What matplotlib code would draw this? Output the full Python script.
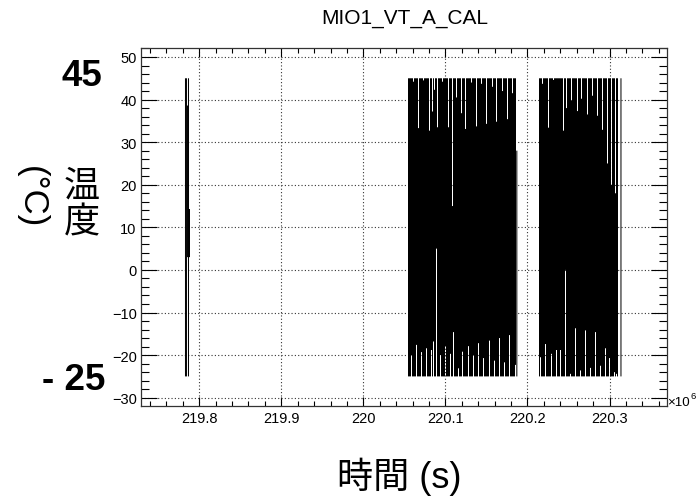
import numpy as np
import matplotlib
matplotlib.use("Agg")
import matplotlib.pyplot as plt
from matplotlib.ticker import MultipleLocator, FixedLocator, FixedFormatter

# ---------------- text ----------------
title = "MIO1_VT_A_CAL"
x_label = "時間 (s)"
y_label_cjk = "温\n度"
y_label_unit = "(°C)"
note_hi = "45"
note_lo = "- 25"
x_exp_base = "×10"
x_exp_pow = "6"

# ---------------- axes ----------------
x_ticks = [219.8, 219.9, 220.0, 220.1, 220.2, 220.3]
x_tick_labels = ["219.8", "219.9", "220", "220.1", "220.2", "220.3"]
y_ticks = [-30, -20, -10, 0, 10, 20, 30, 40, 50]
y_tick_labels = ["\u221230", "\u221220", "\u221210", "0", "10", "20", "30", "40", "50"]
x_range = (219.729, 220.370)   # time, units of 1e6 s
y_range = (-31.95, 52.11)

# ---------------- data ----------------
# temperature saturates between these levels during cycling
T_MAX = 45
T_MIN = -25
# dense cycling bursts (time in 1e6 s)
burst_start = [220.0543, 220.2145]
burst_end = [220.1858, 220.3100]

# columns where the trace peak stays below T_MAX (time, peak value)
top_gap_t = [220.0608, 220.0676, 220.0734, 220.0807, 220.0847, 220.0871, 220.0908,
             220.0961, 220.1034, 220.1080, 220.1131, 220.1192, 220.1248, 220.1314,
             220.1378, 220.1443, 220.1500, 220.1569, 220.1625, 220.1695, 220.1752,
             220.1820,
             220.2185, 220.2252, 220.2315, 220.2437, 220.2476, 220.2538, 220.2611,
             220.2664, 220.2732, 220.2793, 220.2859, 220.2915, 220.2976, 220.3021,
             220.3075]
top_gap_v = [44.2, 33.3, 44.5, 32.7, 37.2, 42.3, 33.5,
             44.2, 33.5, 15.0, 40.5, 36.8, 33.1, 44.0,
             33.7, 43.7, 34.3, 43.0, 34.8, 42.0, 35.4,
             41.5,
             43.7, 33.4, 44.6, 32.7, 38.0, 39.8, 37.3,
             40.2, 36.5, 40.9, 36.2, 32.9, 25.0, 20.0,
             18.0]
# columns where the trace trough stays above T_MIN (time, trough value)
bot_gap_t = [220.0584, 220.0645, 220.0709, 220.0766, 220.0835, 220.0859, 220.0886,
             220.0937, 220.0998, 220.1062, 220.1099, 220.1156, 220.1212, 220.1281,
             220.1342, 220.1406, 220.1467, 220.1533, 220.1594, 220.1658, 220.1719,
             220.1784, 220.1849,
             220.2161, 220.2221, 220.2287, 220.2348, 220.2404, 220.2461, 220.2518,
             220.2579, 220.2644, 220.2701, 220.2769, 220.2826, 220.2895, 220.2956,
             220.3000, 220.3057, 220.3085]
bot_gap_v = [-20.0, -17.6, -19.3, -18.4, -18.8, -16.8, 5.0,
             -20.0, -17.9, -19.7, -14.6, -23.1, -19.2, -17.9,
             -20.1, -17.2, -20.7, -16.6, -21.3, -16.0, -21.7,
             -15.3, -22.3,
             -20.5, -17.4, -19.7, -18.8, -18.8, 0.0, -24.4,
             -13.7, -23.6, -14.2, -23.0, -14.6, -22.5, -18.4,
             -20.7, -24.0, -24.4]
# isolated short excursions (time, min, max)
iso_t = [219.7832, 219.7845, 219.7857, 219.7869, 219.7881, 220.1870, 220.3139]
iso_lo = [-25, -25, 3, -25, 3, -25, -25]
iso_hi = [45, 45, 38.6, 45, 14.3, 28, 45]

# ---------------- figure ----------------
W, H = 697, 502
AX_L, AX_R, AX_T, AX_B = 141, 667, 49, 407
fig = plt.figure(figsize=(W / 100, H / 100), dpi=100)
ax = fig.add_axes([AX_L / W, 1 - AX_B / H, (AX_R - AX_L) / W, (AX_B - AX_T) / H])

# dense trace is drawn as one min/max envelope per screen column
n_cols = AX_R - AX_L
column_step = (x_range[1] - x_range[0]) / n_cols
screen_cols = x_range[0] + (np.arange(n_cols) + 0.5) * column_step

ts, los, his = [], [], []
for s, e in zip(burst_start, burst_end):
    cols = screen_cols[(screen_cols >= s) & (screen_cols <= e)]
    lo = np.full(cols.size, float(T_MIN))
    hi = np.full(cols.size, float(T_MAX))
    for t, v in zip(top_gap_t, top_gap_v):
        if s - column_step <= t <= e + column_step:
            i = int(np.argmin(np.abs(cols - t)))
            hi[i] = min(hi[i], v)
    for t, v in zip(bot_gap_t, bot_gap_v):
        if s - column_step <= t <= e + column_step:
            i = int(np.argmin(np.abs(cols - t)))
            lo[i] = max(lo[i], v)
    ts.append(cols); los.append(lo); his.append(hi)
ts.append(np.array(iso_t)); los.append(np.array(iso_lo, float)); his.append(np.array(iso_hi, float))
all_t = np.concatenate(ts); all_lo = np.concatenate(los); all_hi = np.concatenate(his)

lat = ["Liberation Sans", "DejaVu Sans"]
mix = ["Liberation Sans", "Noto Sans CJK JP", "DejaVu Sans"]
cjk = ["Noto Sans CJK JP", "DejaVu Sans"]

lc = ax.vlines(all_t, all_lo, all_hi, colors="black", linewidth=0.72, zorder=3)
lc.set_snap(False)

ax.set_xlim(*x_range)
ax.set_ylim(*y_range)
ax.xaxis.set_major_locator(FixedLocator(x_ticks))
ax.xaxis.set_major_formatter(FixedFormatter(x_tick_labels))
ax.xaxis.set_minor_locator(MultipleLocator(0.02))
ax.yaxis.set_major_locator(FixedLocator(y_ticks))
ax.yaxis.set_major_formatter(FixedFormatter(y_tick_labels))
ax.yaxis.set_minor_locator(MultipleLocator(2))

ax.tick_params(axis="both", which="both", direction="in", top=True, right=True,
               width=0.8, color="black")
ax.tick_params(axis="y", which="major", length=11.5, pad=3.1)
ax.tick_params(axis="y", which="minor", length=5.8)
ax.tick_params(axis="x", which="major", length=6.5, pad=3.4)
ax.tick_params(axis="x", which="minor", length=3.6)
for lab in ax.get_xticklabels() + ax.get_yticklabels():
    lab.set_fontfamily(lat)
    lab.set_fontsize(10.5)

ax.grid(True, which="major", linestyle=(0, (1, 2)), color="#333333", linewidth=0.8)
ax.set_axisbelow(True)
for sp in ax.spines.values():
    sp.set_linewidth(0.9)
    sp.set_color("#333333")

def px(x, y):
    return x / W, 1 - y / H

fig.text(*px(404.5, 19), title, family=lat, fontsize=15, ha="center", va="center")
fig.text(*px(399, 476.7), x_label, family=mix, fontsize=26, ha="center", va="center")
fig.text(*px(81.7, 205), y_label_cjk, family=cjk, fontsize=26, ha="center", va="center",
         linespacing=1.05)
fig.text(*px(31.7, 196.7), y_label_unit, family=mix, fontsize=25, ha="center", va="center",
         rotation=-90)
fig.text(*px(81.7, 77), note_hi, family=lat, fontsize=26.5, fontweight="bold",
         ha="center", va="center")
fig.text(*px(74, 380.5), note_lo, family=lat, fontsize=26.5, fontweight="bold",
         ha="center", va="center")
fig.text(*px(667.5, 406), x_exp_base, family=lat, fontsize=9.6, ha="left", va="baseline")
fig.text(*px(690.5, 399.5), x_exp_pow, family=lat, fontsize=6.8, ha="left", va="baseline")

fig.savefig("out.png", dpi=100)
